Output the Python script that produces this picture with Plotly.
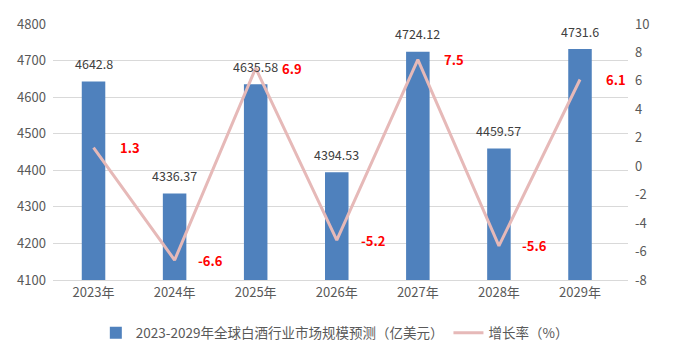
import plotly.graph_objects as go

years = ["2023年", "2024年", "2025年", "2026年", "2027年", "2028年", "2029年"]
market = [4642.8, 4336.37, 4635.58, 4394.53, 4724.12, 4459.57, 4731.6]
growth = [1.3, -6.6, 6.9, -5.2, 7.5, -5.6, 6.1]
left_ticks = [4100, 4200, 4300, 4400, 4500, 4600, 4700, 4800]
right_ticks = [-8, -6, -4, -2, 0, 2, 4, 6, 8, 10]
bar_name = "2023-2029年全球白酒行业市场规模预测（亿美元）"
line_name = "增长率（%）"

FONT = "Noto Sans CJK SC, Liberation Sans, sans-serif"

XDOM = [0.0769, 0.9442]
YDOM = [0.2149, 0.9484]

fig = go.Figure()
fig.add_trace(go.Bar(
    x=years, y=market, name=bar_name,
    marker=dict(color="#4F81BD", line=dict(width=0)),
    width=0.29,
))
fig.add_trace(go.Scatter(
    x=years, y=growth, name=line_name, yaxis="y2",
    mode="lines", line=dict(color="#E6B9B8", width=3),
))

ann = []
for x, v in zip(years, market):
    ann.append(dict(x=x, y=v, xref="x", yref="y", text=f"{v:g}", showarrow=False,
                    yshift=18, font=dict(size=12.5, color="#404040", family=FONT)))
for x, g in zip(years, growth):
    ann.append(dict(x=x, y=g, xref="x", yref="y2", text=f"<b>{g:g}</b>", showarrow=False,
                    xshift=36, font=dict(size=13, color="#FF0000", family=FONT)))

fig.update_layout(
    width=673, height=362,
    margin=dict(l=2, r=8, t=6, b=7, autoexpand=False),
    paper_bgcolor="white", plot_bgcolor="white",
    font=dict(family=FONT, size=13, color="#595959"),
    showlegend=True,
    legend=dict(orientation="h", x=0.502, xanchor="center", y=0.063, yanchor="middle",
                font=dict(size=13.5, color="#595959", family=FONT), itemwidth=30),
    xaxis=dict(domain=XDOM, anchor="y", showgrid=False, showline=True, linecolor="#D9D9D9",
               linewidth=1, ticks="", automargin=False,
               tickfont=dict(size=13, color="#595959")),
    yaxis=dict(domain=YDOM, anchor="x", range=[4100, 4800], tickvals=left_ticks,
               ticktext=[str(t) for t in left_ticks],
               showgrid=True, gridcolor="#D9D9D9", automargin=False,
               gridwidth=1, zeroline=False, ticks="", showline=False, ticklabelstandoff=6,
               tickfont=dict(size=13, color="#595959")),
    yaxis2=dict(range=[-8, 10], tickvals=right_ticks, ticktext=[str(t) for t in right_ticks],
                overlaying="y", side="right", anchor="x", showgrid=False, automargin=False,
                zeroline=False, ticks="", showline=False, ticklabelstandoff=6,
                tickfont=dict(size=13, color="#595959")),
    xaxis3=dict(domain=[0, 1], anchor="y3", range=[0, 1], showline=True, mirror=True,
                linecolor="#404040", linewidth=2, showgrid=False, zeroline=False,
                showticklabels=False, ticks="", fixedrange=True),
    yaxis3=dict(domain=[0, 1], anchor="x3", range=[0, 1], showline=True, mirror=True,
                linecolor="#404040", linewidth=2, showgrid=False, zeroline=False,
                showticklabels=False, ticks="", fixedrange=True),
    annotations=ann,
)

fig.write_html("out.html", config={"displayModeBar": False},
               post_script="document.body.style.margin='0';")
